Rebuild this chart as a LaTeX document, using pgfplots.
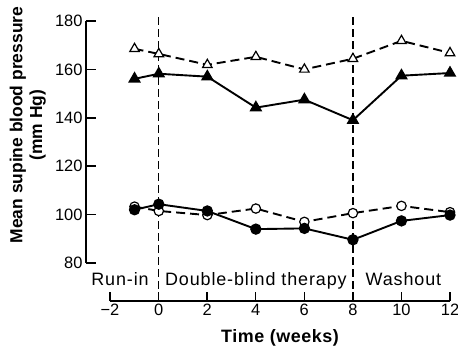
\documentclass[border=0pt]{standalone}
\usepackage{fontspec}
\setmainfont{Liberation Sans}
\newfontfamily\spaced[LetterSpace=5]{Liberation Sans}
\newfontfamily\spacedb[LetterSpace=3]{Liberation Sans Bold}
\usepackage{pgfplots}
\pgfplotsset{compat=1.18}

\begin{document}
\begin{tikzpicture}
\begin{axis}[
 name=main, at={(0,0)}, anchor=south west,
 scale only axis, width=364bp, height=242bp,
 xmin=-3, xmax=12, ymin=80, ymax=180,
 axis x line=none, axis y line*=left,
 xtick=\empty,
 ytick={80,100,120,140,160,180},
 yticklabels={80,100,120,140,160,180},
 tick align=inside, major tick length=10bp,
 yticklabel style={font=\fontsize{16.5}{18}\selectfont},
 every axis y label/.style={at={(axis description cs:-0.16,0.57)}, rotate=90, anchor=center, align=center, font=\bfseries\fontsize{17.5}{20}\selectfont},
 ylabel={Mean supine blood pressure\\(mm Hg)},
 clip=false,
 axis line style={line width=1.5bp, black}, tick style={line width=1.5bp, black},
]
\addplot[black, line width=1.3bp, dash pattern=on 8bp off 4bp] coordinates {(0,181.5) (0,64.8)};
\addplot[black, line width=1.3bp, dash pattern=on 8bp off 4bp] coordinates {(8,181.5) (8,64.8)};
% open triangles, dashed
\addplot[black, line width=1.9bp, dash pattern=on 9bp off 5bp, mark=triangle*, mark size=5.5bp,
  mark options={solid, fill=white, draw=black, line width=1.2bp}] coordinates {
 (-1,168.5) (0,166.4) (2,161.9) (4,165.2) (6,160) (8,164.4) (10,171.8) (12,166.8)};
% filled triangles, solid
\addplot[black, line width=1.9bp, mark=triangle*, mark size=5.5bp,
  mark options={solid, fill=black, draw=black}] coordinates {
 (-1,156.1) (0,158.2) (2,157) (4,144.2) (6,147.5) (8,139) (10,157.4) (12,158.5)};
% open circles, dashed
\addplot[black, line width=1.9bp, dash pattern=on 9bp off 5bp, mark=*, mark size=4.7bp,
  mark options={solid, fill=white, draw=black, line width=1.2bp}] coordinates {
 (-1,103.3) (0,101.5) (2,99.8) (4,102.5) (6,97) (8,100.6) (10,103.6) (12,101)};
% filled circles, solid
\addplot[black, line width=1.9bp, mark=*, mark size=4.7bp,
  mark options={solid, fill=black, draw=black}] coordinates {
 (-1,102) (0,104.3) (2,101.5) (4,94) (6,94.3) (8,89.6) (10,97.4) (12,99.8)};
\node[font=\spaced\fontsize{18}{20}\selectfont, anchor=base] at (axis cs:-1.6,70.5) {Run-in};
\node[font=\spaced\fontsize{18}{20}\selectfont, anchor=base] at (axis cs:4.0,70.5) {Double-blind therapy};
\node[font=\spaced\fontsize{18}{20}\selectfont, anchor=base] at (axis cs:10.08,70.5) {Washout};
\end{axis}
\begin{axis}[
 at={(24bp,-38bp)}, anchor=south west,
 scale only axis, width=340bp, height=10bp,
 xmin=-2, xmax=12, ymin=0, ymax=1,
 axis y line=none, axis x line*=bottom,
 ytick=\empty,
 xtick={-2,0,2,4,6,8,10,12},
 xticklabels={−2,0,2,4,6,8,10,12},
 tick align=inside, major tick length=9bp,
 xticklabel style={font=\fontsize{16.5}{18}\selectfont},
 every axis x label/.style={at={(axis description cs:0.5,0)}, yshift=-41bp, anchor=base, font=\spacedb\fontsize{18}{20}\selectfont},
 xlabel={Time (weeks)},
 axis line style={line width=1.5bp, black}, tick style={line width=1.5bp, black},
]
\end{axis}
\pgfresetboundingbox
\path (-86bp,-85bp) rectangle (372bp,263bp);
\end{tikzpicture}
\end{document}
